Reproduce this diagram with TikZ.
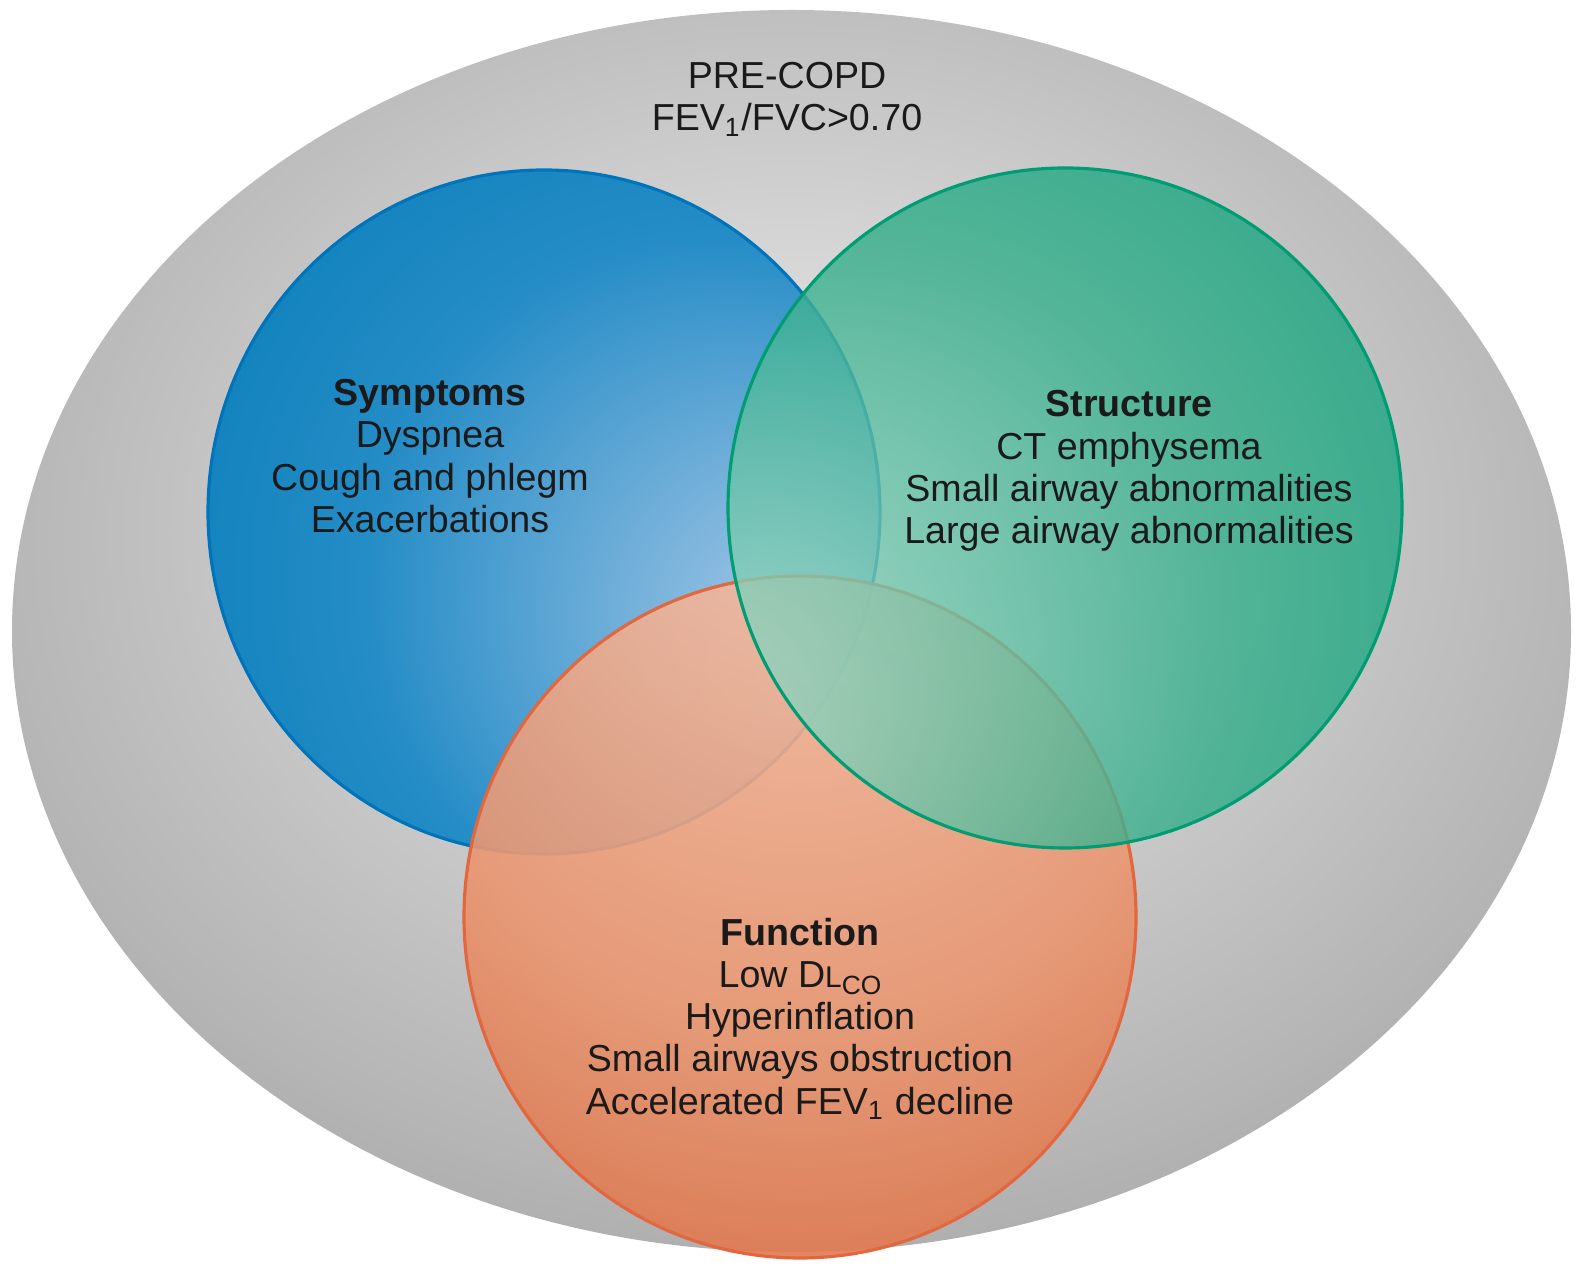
\documentclass[tikz,border=0pt]{standalone}
\usepackage{fontspec}
\setmainfont{Liberation Sans}
\usetikzlibrary{positioning}
\definecolor{txtdark}{HTML}{1A1A1A}
\definecolor{graylight}{RGB}{236,236,236}
\definecolor{graymid}{RGB}{210,210,210}
\definecolor{graydark}{RGB}{152,152,152}
\definecolor{symlight}{RGB}{178,205,234}
\definecolor{symmid}{RGB}{36,140,198}
\definecolor{symdark}{RGB}{0,122,182}
\definecolor{symedge}{RGB}{0,116,186}
\definecolor{strlight}{RGB}{168,220,204}
\definecolor{strmid}{RGB}{52,174,138}
\definecolor{strdark}{RGB}{0,158,118}
\definecolor{stredge}{RGB}{0,156,114}
\definecolor{funlight}{RGB}{247,202,180}
\definecolor{funmid}{RGB}{234,150,112}
\definecolor{fundark}{RGB}{214,90,44}
\definecolor{funedge}{RGB}{226,102,62}
\pgfdeclareradialshading{precopdshade}{\pgfpoint{0bp}{6bp}}{color(0bp)=(graylight); color(12bp)=(graymid); color(26bp)=(graydark!50!graymid); color(38bp)=(graydark); color(60bp)=(graydark)}
\pgfdeclareradialshading{symshade}{\pgfpoint{22bp}{-10bp}}{color(0bp)=(symlight); color(26bp)=(symmid); color(46bp)=(symdark); color(60bp)=(symdark)}
\pgfdeclareradialshading{strshade}{\pgfpoint{-30bp}{-17bp}}{color(0bp)=(strlight); color(28bp)=(strmid); color(48bp)=(strdark); color(60bp)=(strdark)}
\pgfdeclareradialshading{funshade}{\pgfpoint{0bp}{43bp}}{color(0bp)=(funlight); color(30bp)=(funmid); color(50bp)=(fundark); color(60bp)=(fundark)}
\newcommand{\settitle}[1]{{\bfseries #1}}
\tikzset{
  setcircle/.style={line width=0.9pt},
  vennlabel/.style={font=\fontsize{10.7}{12}\selectfont,text=txtdark,align=center,inner sep=0pt}
}

\begin{document}
\begin{tikzpicture}
  \useasboundingbox (0,0) rectangle (15.76,12.67);

  \coordinate (outer) at (7.915,6.36);
  \coordinate (symc) at (5.44,7.55);
  \coordinate (strc) at (10.65,7.59);
  \coordinate (func) at (8.00,3.50);

  \shade[shading=precopdshade] (outer) ellipse [x radius=7.795,y radius=6.21];

  \shade[shading=symshade] (symc) ellipse [x radius=3.36,y radius=3.42];
  \draw[setcircle,symedge] (symc) ellipse [x radius=3.36,y radius=3.42];

  \shade[shading=funshade,fill opacity=0.9] (func) ellipse [x radius=3.36,y radius=3.41];
  \draw[setcircle,funedge] (func) ellipse [x radius=3.36,y radius=3.41];

  \shade[shading=strshade,fill opacity=0.8] (strc) ellipse [x radius=3.37,y radius=3.40];
  \draw[setcircle,stredge] (strc) ellipse [x radius=3.37,y radius=3.40];

  \node[vennlabel] (precopd) at (7.87,11.68)
    {PRE-COPD\\FEV\textsubscript{1}/FVC>0.70};
  \node[vennlabel] (symptoms) at (4.30,8.11)
    {\settitle{Symptoms}\\Dyspnea\\Cough and phlegm\\Exacerbations};
  \node[vennlabel] (structure) at (11.29,7.96)
    {\settitle{Structure}\\CT emphysema\\Small airway abnormalities\\Large airway abnormalities};
  \node[vennlabel] (function) at (8.00,2.48)
    {\settitle{Function}\\Low D{\fontsize{8.5}{10}\selectfont L}\raisebox{-0.35ex}{\fontsize{7.5}{9}\selectfont CO}\\Hyperinflation\\Small airways obstruction\\Accelerated FEV\textsubscript{1} decline};
\end{tikzpicture}
\end{document}
